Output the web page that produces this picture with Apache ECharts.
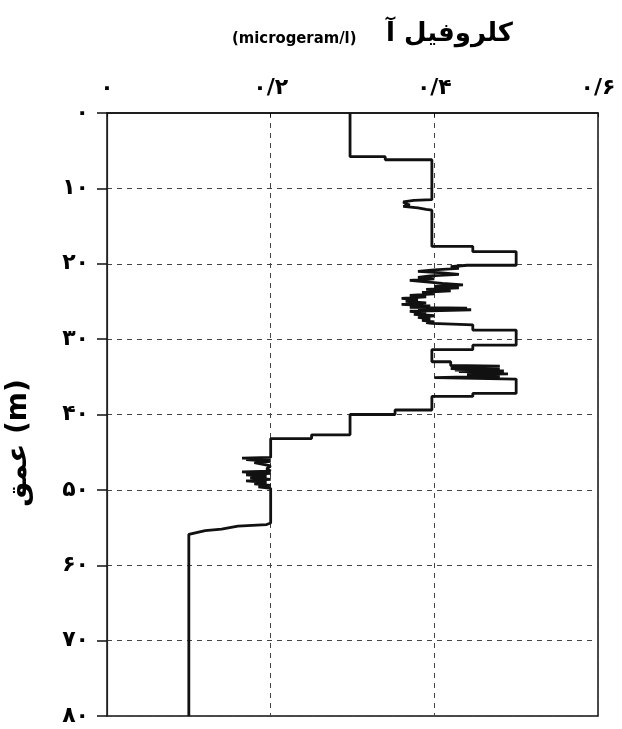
<!DOCTYPE html>
<html>
<head>
<meta charset="utf-8">
<script src="https://cdn.jsdelivr.net/npm/echarts@6/dist/echarts.min.js"></script>
<style>html,body{margin:0;padding:0;background:#fff}#c{width:622px;height:729px}</style>
</head>
<body>
<div id="c"></div>
<script>
// Chlorophyll a (value) vs depth (m)
const chlorophyll = [0.297,0.297,0.34,0.34,0.397,0.397,0.375,0.362,0.365,0.37,0.362,0.38,0.39,0.397,0.397,0.447,0.447,0.5,0.5,0.44,
  0.42,0.43,0.40,0.38,0.41,0.43,0.395,0.38,0.40,0.37,0.39,0.41,0.435,0.40,0.43,0.39,0.42,0.385,0.40,
  0.37,0.39,0.36,0.38,0.365,0.39,0.36,0.395,0.37,0.44,0.38,0.445,0.37,0.39,0.375,0.40,0.38,0.395,0.385,0.40,0.39,0.397,
  0.447,0.447,0.5,0.5,0.447,0.447,0.397,0.397,0.42,0.42,
  0.48,0.42,0.475,0.42,0.48,0.425,0.485,0.43,0.485,0.44,0.49,0.44,0.48,0.40,0.40,0.5,0.5,
  0.447,0.447,0.397,0.397,0.352,0.352,0.297,0.297,0.25,0.25,0.2,
  0.2,0.165,0.2,0.17,0.2,0.18,0.2,0.195,0.2,0.165,0.2,0.17,0.195,0.175,0.2,0.17,0.195,0.18,0.2,0.185,0.2,0.2,0.195,0.16,0.14,0.12,0.1,0.1];
const depth = [0,5.8,5.8,6.2,6.2,11.5,11.6,11.8,12.0,12.2,12.4,12.6,12.8,12.9,17.7,17.7,18.4,18.4,20.2,20.2,
  20.4,20.6,20.8,21.0,21.2,21.4,21.6,21.8,22.0,22.2,22.4,22.6,22.8,23.0,23.2,23.4,23.6,23.8,24.0,
  24.2,24.4,24.6,24.8,25.0,25.2,25.4,25.6,25.8,25.9,26.0,26.1,26.3,26.5,26.7,26.9,27.1,27.3,27.5,27.7,27.8,27.9,
  28.1,28.8,28.8,30.8,30.8,31.4,31.4,33.0,33.0,33.5,
  33.6,33.7,33.8,33.9,34.0,34.1,34.2,34.3,34.4,34.5,34.6,34.7,34.9,35.1,35.3,35.3,37.2,
  37.2,37.6,37.6,39.4,39.4,40.0,40.0,42.7,42.7,43.2,43.2,
  45.7,45.8,45.9,46.0,46.2,46.4,46.8,47.2,47.5,47.6,47.8,48.0,48.2,48.4,48.6,48.8,49.0,49.2,49.4,49.6,49.8,54.4,54.6,54.8,55.2,55.4,55.9,80];
const xTickValues = [0, 0.2, 0.4, 0.6];
const xTickLabels = ['۰', '۰/۲', '۰/۴', '۰/۶'];
const yTickValues = [0, 10, 20, 30, 40, 50, 60, 70, 80];
const yTickLabels = ['۰', '۱۰', '۲۰', '۳۰', '۴۰', '۵۰', '۶۰', '۷۰', '۸۰'];
const titleText = 'کلروفیل آ';
const unitText = '(microgeram/l)';
const yName = 'عمق (m)';

const points = chlorophyll.map((v, i) => [v, depth[i]]);
const fmt = (vals, labs) => v => {
  const i = vals.findIndex(t => Math.abs(t - v) < 1e-6);
  return i >= 0 ? labs[i] : '';
};
const FONT = 'DejaVu Sans';
const chart = echarts.init(document.getElementById('c'), null, {renderer: 'canvas'});
chart.setOption({
  animation: false,
  backgroundColor: '#fff',
  grid: {left: 107, right: 24, top: 113, bottom: 13, show: true, borderColor: '#111', borderWidth: 1.5},
  graphic: [
    {type: 'text', left: 386, top: 21, style: {text: titleText, font: 'bold 26px "DejaVu Sans"', fill: '#000'}},
    {type: 'text', left: 232, top: 30, style: {text: unitText, font: 'bold 16.5px "Liberation Sans Narrow", "DejaVu Sans Condensed", sans-serif', fill: '#000'}},
    {type: 'text', x: 19, y: 443, rotation: Math.PI / 2, style: {text: yName, font: 'bold 28px "DejaVu Sans"', fill: '#000', align: 'center', verticalAlign: 'middle'}}
  ],
  xAxis: {
    type: 'value', position: 'top', min: 0, max: 0.6, interval: 0.2,
    axisLine: {show: true, lineStyle: {color: '#111', width: 1.5}},
    axisTick: {show: true, inside: true, length: 4, lineStyle: {color: '#111'}},
    axisLabel: {formatter: fmt(xTickValues, xTickLabels), color: '#000', fontFamily: FONT, fontWeight: 'bold', fontSize: 22, margin: 14},
    splitLine: {show: true, lineStyle: {color: '#444', type: [5, 5], width: 1}}
  },
  yAxis: {
    type: 'value', inverse: true, min: 0, max: 80, interval: 10,
    axisLine: {show: true, lineStyle: {color: '#222', width: 1.2}},
    axisTick: {show: true, length: 10, lineStyle: {color: '#111', width: 1.5}},
    axisLabel: {formatter: fmt(yTickValues, yTickLabels), color: '#000', fontFamily: FONT, fontWeight: 'bold', fontSize: 22, margin: 18},
    splitLine: {show: true, lineStyle: {color: '#444', type: [5, 5], width: 1}}
  },
  series: [{
    type: 'line', data: points, showSymbol: false, symbol: 'none',
    lineStyle: {color: '#111', width: 2.8}, silent: true
  }]
});
</script>
</body>
</html>
